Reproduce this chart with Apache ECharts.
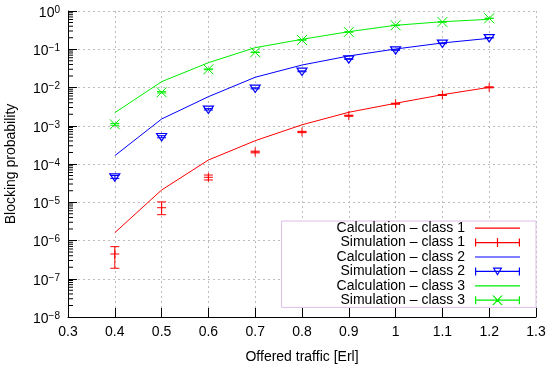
<!DOCTYPE html>
<html><head><meta charset="utf-8">
<script src="https://cdn.jsdelivr.net/npm/echarts@6/dist/echarts.min.js"></script>
<style>html,body{margin:0;padding:0;background:#fff}#c{width:550px;height:365px}</style>
</head><body><div id="c"></div>
<script>
// ---- data ----
const offeredTraffic = [0.4, 0.5, 0.6, 0.7, 0.8, 0.9, 1.0, 1.1, 1.2];

const calcClass1 = [1.6e-6, 2.09e-5, 1.27e-4, 4.07e-4, 1.06e-3, 2.25e-3, 3.87e-3, 6.49e-3, 1.01e-2];
const simClass1  = [4.44e-7, 7.2e-6, 4.49e-5, 2.06e-4, 6.87e-4, 1.83e-3, 3.77e-3, 6.37e-3, 1.01e-2];
const simClass1Low  = [1.88e-7, 4.73e-6, 3.82e-5, 1.95e-4, 6.6e-4, 1.77e-3, 3.66e-3, 6.2e-3, 9.8e-3];
const simClass1High = [6.9e-7, 1.02e-5, 5.15e-5, 2.17e-4, 7.15e-4, 1.89e-3, 3.88e-3, 6.55e-3, 1.04e-2];

const calcClass2 = [1.65e-4, 1.50e-3, 5.75e-3, 1.85e-2, 3.87e-2, 6.67e-2, 0.1015, 0.146, 0.193];
const simClass2  = [4.57e-5, 5.17e-4, 2.69e-3, 9.5e-3, 2.65e-2, 5.56e-2, 9.56e-2, 0.143, 0.200];
const simClass2Low  = [4.2e-5, 4.85e-4, 2.57e-3, 9.2e-3, 2.58e-2, 5.45e-2, 9.4e-2, 0.140, 0.197];
const simClass2High = [5.0e-5, 5.5e-4, 2.81e-3, 9.8e-3, 2.72e-2, 5.67e-2, 9.72e-2, 0.146, 0.203];

const calcClass3 = [2.19e-3, 1.42e-2, 4.45e-2, 0.110, 0.182, 0.288, 0.423, 0.525, 0.607];
const simClass3  = [1.09e-3, 7.5e-3, 2.99e-2, 8.32e-2, 0.175, 0.283, 0.423, 0.516, 0.644];
const simClass3Low  = [1.03e-3, 7.2e-3, 2.92e-2, 8.2e-2, 0.173, 0.281, 0.420, 0.513, 0.640];
const simClass3High = [1.15e-3, 7.8e-3, 3.06e-2, 8.44e-2, 0.177, 0.285, 0.426, 0.519, 0.648];

const legendNames = [
  'Calculation \u2013 class 1', 'Simulation \u2013 class 1',
  'Calculation \u2013 class 2', 'Simulation \u2013 class 2',
  'Calculation \u2013 class 3', 'Simulation \u2013 class 3'
];
const minorMantissas = [2, 3, 4, 5, 6, 7, 8, 9];
const yMinExp = -8, yMaxExp = 0;
const xMin = 0.3, xMax = 1.3, xStep = 0.1;

// ---- styling ----
const RED = '#ff0000', BLUE = '#0000ff', GREEN = '#00ee00';
const FONT = '"Liberation Sans", Arial, Helvetica, sans-serif';

function pairs(xs, ys) { return xs.map((x, i) => [x, ys[i]]); }
function quads(xs, ys, lo, hi) { return xs.map((x, i) => [x, ys[i], lo[i], hi[i]]); }

function simRender(marker) {
  return function (params, api) {
    const x = api.value(0), y = api.value(1), lo = api.value(2), hi = api.value(3);
    const p = api.coord([x, y]);
    const a = api.coord([x, lo]);
    const b = api.coord([x, hi]);
    const c = api.visual('color');
    const st = { stroke: c, lineWidth: 1, fill: null };
    const cw = 4.5;
    const ch = [
      { type: 'line', shape: { x1: p[0], y1: a[1], x2: p[0], y2: b[1] }, style: st },
      { type: 'line', shape: { x1: p[0] - cw, y1: a[1], x2: p[0] + cw, y2: a[1] }, style: st },
      { type: 'line', shape: { x1: p[0] - cw, y1: b[1], x2: p[0] + cw, y2: b[1] }, style: st }
    ];
    if (marker === 'plus') {
      ch.push({ type: 'line', shape: { x1: p[0] - 4.5, y1: p[1], x2: p[0] + 4.5, y2: p[1] }, style: st });
      ch.push({ type: 'line', shape: { x1: p[0], y1: p[1] - 4.5, x2: p[0], y2: p[1] + 4.5 }, style: st });
    } else if (marker === 'tri') {
      ch.push({ type: 'polygon', shape: { points: [[p[0] - 5, p[1] - 3.2], [p[0] + 5, p[1] - 3.2], [p[0], p[1] + 4.2]] },
        style: { stroke: c, lineWidth: 1.2, fill: 'none' } });
    } else if (marker === 'x') {
      ch.push({ type: 'line', shape: { x1: p[0] - 5, y1: p[1] - 5, x2: p[0] + 5, y2: p[1] + 5 }, style: st });
      ch.push({ type: 'line', shape: { x1: p[0] - 5, y1: p[1] + 5, x2: p[0] + 5, y2: p[1] - 5 }, style: st });
    }
    return { type: 'group', children: ch };
  };
}

// legend icons (45 x 10 box); tiny corner specks fix the bounding box
const ICON_BOX = 'M0,0L0.01,0L0,0.01Z M45,10L44.99,10L45,9.99Z ';
const ICON_LINE = 'M0,4.4H45V5.6H0Z ';
const ICON_CAPS = 'M0,1H1.2V9H0Z M43.8,1H45V9H43.8Z ';
const iconCalc = 'path://' + ICON_BOX + ICON_LINE;
const iconPlus = 'path://' + ICON_BOX + ICON_LINE + ICON_CAPS + 'M21.9,0.5H23.1V9.5H21.9Z';
const iconTri = 'path://' + ICON_BOX + ICON_LINE + ICON_CAPS + 'M17.6,1.2L27.4,1.2L22.5,9.4Z M19.7,2.4L22.5,7.1L25.3,2.4Z';
const iconX = 'path://' + ICON_BOX + ICON_LINE + ICON_CAPS + 'M17.2,0.2L18.8,0.2L27.8,9.8L26.2,9.8Z M26.2,0.2L27.8,0.2L18.8,9.8L17.2,9.8Z';

const minorData = [];
for (let e = yMinExp; e < yMaxExp; e++) {
  minorMantissas.forEach(m => minorData.push([xMin, m * Math.pow(10, e)]));
}

const chart = echarts.init(document.getElementById('c'), null, { renderer: 'canvas' });
chart.setOption({
  animation: false,
  backgroundColor: '#fff',
  textStyle: { fontFamily: FONT },
  grid: { left: 68, right: 14, top: 11, bottom: 48, outerBoundsMode: 'none', containLabel: false },
  legend: {
    orient: 'vertical', right: 14, top: 221,
    align: 'right',
    itemWidth: 45, itemHeight: 10, itemGap: 0,
    padding: [0, 16, 0, 55],
    borderColor: '#dcbde9', borderWidth: 1, backgroundColor: '#fff',
    selectedMode: false,
    itemStyle: { borderWidth: 0 },
    textStyle: { fontFamily: FONT, fontSize: 14, color: '#000', lineHeight: 14.4, padding: [0, 5, 0, 0] },
    data: [
      { name: legendNames[0], icon: iconCalc },
      { name: legendNames[1], icon: iconPlus },
      { name: legendNames[2], icon: iconCalc },
      { name: legendNames[3], icon: iconTri },
      { name: legendNames[4], icon: iconCalc },
      { name: legendNames[5], icon: iconX }
    ],
    z: 20
  },
  xAxis: {
    type: 'value', min: xMin, max: xMax, interval: xStep,
    name: 'Offered traffic [Erl]', nameLocation: 'middle', nameGap: 33,
    nameTextStyle: { fontFamily: FONT, fontSize: 14, color: '#000' },
    axisLine: { onZero: false, lineStyle: { color: '#000', width: 1 } },
    axisTick: { inside: true, length: 9, lineStyle: { color: '#000' } },
    axisLabel: { fontFamily: FONT, fontSize: 14, color: '#000', margin: 8,
      formatter: v => String(+v.toFixed(1)) },
    splitLine: { show: true, lineStyle: { color: '#bdbdbd', type: [2, 3], width: 1 } }
  },
  yAxis: {
    type: 'log', logBase: 10, min: Math.pow(10, yMinExp), max: Math.pow(10, yMaxExp), interval: 1,
    name: 'Blocking probability', nameLocation: 'middle', nameGap: 50,
    nameTextStyle: { fontFamily: FONT, fontSize: 14, color: '#000' },
    axisLine: { show: true, lineStyle: { color: '#000', width: 1 } },
    axisTick: { show: true, inside: true, length: 9, lineStyle: { color: '#000' } },
    axisLabel: {
      margin: 8, padding: [4, 0, 0, 0],
      formatter: v => {
        const e = Math.round(Math.log10(v));
        return '{b|10}{e|' + (e < 0 ? '\u2212' + (-e) : String(e)) + '}';
      },
      rich: {
        b: { fontFamily: FONT, fontSize: 14, color: '#000', lineHeight: 16 },
        e: { fontFamily: FONT, fontSize: 10, color: '#000', lineHeight: 10, verticalAlign: 'top' }
      }
    },
    splitLine: { show: true, lineStyle: { color: '#bdbdbd', type: [2, 3], width: 1 } }
  },
  series: [
    { name: legendNames[0], type: 'line', data: pairs(offeredTraffic, calcClass1), symbol: 'none',
      color: RED, lineStyle: { width: 1, color: RED }, z: 5 },
    { name: legendNames[1], type: 'custom', data: quads(offeredTraffic, simClass1, simClass1Low, simClass1High),
      encode: { x: 0, y: 1 }, itemStyle: { color: RED, borderWidth: 0 }, renderItem: simRender('plus'), z: 6 },
    { name: legendNames[2], type: 'line', data: pairs(offeredTraffic, calcClass2), symbol: 'none',
      color: BLUE, lineStyle: { width: 1, color: BLUE }, z: 5 },
    { name: legendNames[3], type: 'custom', data: quads(offeredTraffic, simClass2, simClass2Low, simClass2High),
      encode: { x: 0, y: 1 }, itemStyle: { color: BLUE, borderWidth: 0 }, renderItem: simRender('tri'), z: 6 },
    { name: legendNames[4], type: 'line', data: pairs(offeredTraffic, calcClass3), symbol: 'none',
      color: GREEN, lineStyle: { width: 1, color: GREEN }, z: 5 },
    { name: legendNames[5], type: 'custom', data: quads(offeredTraffic, simClass3, simClass3Low, simClass3High),
      encode: { x: 0, y: 1 }, itemStyle: { color: GREEN, borderWidth: 0 }, renderItem: simRender('x'), z: 6 },
    { name: 'minor-ticks', type: 'custom', data: minorData, encode: { x: 0, y: 1 }, silent: true, z: 7,
      itemStyle: { color: '#000' },
      renderItem: (params, api) => {
        const p = api.coord([api.value(0), api.value(1)]);
        return { type: 'line', shape: { x1: p[0], y1: p[1], x2: p[0] + 5, y2: p[1] },
          style: { stroke: '#000', lineWidth: 1 } };
      } }
  ]
});
</script></body></html>
